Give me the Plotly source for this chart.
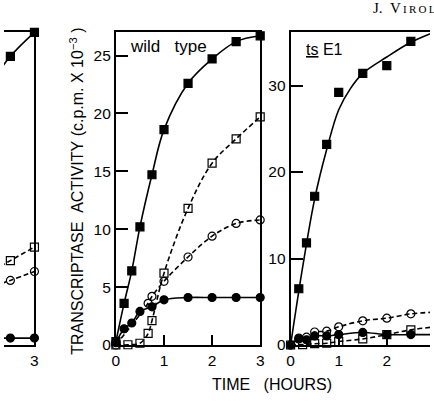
import plotly.graph_objects as go

W, H = 434, 402

# ---------------- data ----------------
# middle panel: wild type
wt_t_fsq = [0, 0.17, 0.33, 0.5, 0.75, 1.0, 1.5, 2.0, 2.5, 3.0]
wt_fsq = [0.3, 3.6, 6.4, 10.2, 14.7, 18.6, 22.6, 24.7, 26.2, 26.7]
wt_t_fci = [0, 0.17, 0.33, 0.5, 0.75, 1.0, 1.5, 2.0, 2.5, 3.0]
wt_fci = [0.2, 1.4, 1.9, 2.9, 3.3, 3.9, 4.1, 4.1, 4.1, 4.1]
wt_t_oci = [0, 0.67, 0.75, 1.0, 1.5, 2.0, 2.5, 3.0]
wt_oci = [0, 3.6, 4.2, 5.5, 7.6, 9.4, 10.5, 10.8]
wt_t_osq = [0, 0.25, 0.5, 0.67, 0.75, 1.0, 1.5, 2.0, 2.5, 3.0]
wt_osq = [0, 0.02, 0.15, 1.0, 2.1, 6.2, 11.8, 15.7, 17.8, 19.7]

# right panel: ts E1
ts_t_fsq = [0.17, 0.33, 0.5, 0.75, 1.0, 1.5, 2.0, 2.5]
ts_fsq = [6.5, 11.8, 17.2, 23.2, 29.2, 31.4, 32.3, 35.1]
ts_curve_t = [0, 0.25, 0.5, 0.75, 1.0, 1.25, 1.5, 2.0, 2.5, 3.0]
ts_curve = [0, 9.0, 16.9, 22.6, 27.2, 29.7, 31.4, 33.3, 35.0, 36.2]
ts_t = [0, 0.17, 0.33, 0.5, 0.75, 1.0, 1.5, 2.0, 2.5, 3.0]
ts_oci = [0, 0.8, 0.9, 1.5, 1.6, 2.1, 2.8, 3.1, 3.6, 3.8]
ts_fci = [0, 0.7, 0.6, 1.05, 1.05, 1.2, 1.45, 1.2, 1.2, 1.2]
ts_t_osq = [0, 0.25, 0.5, 0.75, 1.0, 1.5, 2.0, 2.5, 3.0]
ts_osq = [0, 0.05, 0.15, 0.2, 0.4, 0.7, 1.2, 1.75, 2.1]

# left panel (cut off): only its right end is visible
lp_t = [2.0, 2.5, 3.0]
lp_fsq = [24.5, 27.7, 30.0]
lp_osq = [6.8, 8.1, 9.4]
lp_oci = [5.4, 6.2, 7.05]
lp_fci = [0.66, 0.66, 0.66]

# tick labels
wt_yticks = [0, 5, 10, 15, 20, 25]
ts_yticks = [0, 10, 20, 30]
time_ticks = [0, 1, 2, 3]

# ---------------- figure ----------------
FONT = "Liberation Sans, Arial, sans-serif"
fig = go.Figure()


def px_x(p):
    return p / W


def px_y(p):
    return 1 - p / H


def series(x, y, xa, ya, symbol, dash, mode="lines+markers", shape="spline"):
    fig.add_trace(go.Scatter(
        x=x, y=y, xaxis=xa, yaxis=ya, mode=mode,
        line=dict(color="black", width=1.6, dash=dash, shape=shape, smoothing=1.0),
        marker=dict(symbol=symbol, size=8, color="black",
                    line=dict(color="black", width=1.2)),
        cliponaxis=False, showlegend=False, hoverinfo="skip"))


# middle panel
series(wt_t_fsq, wt_fsq, "x", "y", "square", "solid")
series(wt_t_fci, wt_fci, "x", "y", "circle", "solid")
series(wt_t_oci, wt_oci, "x", "y", "circle-open", "5px,3px")
series(wt_t_osq, wt_osq, "x", "y", "square-open", "5px,3px")

# right panel
series(ts_curve_t, ts_curve, "x2", "y2", "square", "solid", mode="lines")
series(ts_t_fsq, ts_fsq, "x2", "y2", "square", "solid", mode="markers")
series(ts_t, ts_oci, "x2", "y2", "circle-open", "5px,3px")
series(ts_t, ts_fci, "x2", "y2", "circle", "solid")
series(ts_t_osq, ts_osq, "x2", "y2", "square-open", "5px,3px")

# left panel
series(lp_t, lp_fsq, "x3", "y3", "square", "solid")
series(lp_t, lp_osq, "x3", "y3", "square-open", "5px,3px")
series(lp_t, lp_oci, "x3", "y3", "circle-open", "5px,3px")
series(lp_t, lp_fci, "x3", "y3", "circle", "solid")

ydom = [px_y(352), px_y(33)]
common_x = dict(showline=True, linecolor="black", linewidth=2, ticks="inside",
                ticklen=10, tickwidth=1.5, tickcolor="black", showgrid=False,
                zeroline=False,
                tickfont=dict(family=FONT, size=15.5, color="black"))
common_y = dict(showline=True, linecolor="black", linewidth=2, ticks="inside",
                ticklen=12, tickwidth=1.5, tickcolor="black", showgrid=False,
                zeroline=False, tickfont=dict(family=FONT, size=15.5, color="black"))

fig.update_layout(
    width=W, height=H, margin=dict(l=0, r=0, t=0, b=0),
    paper_bgcolor="white", plot_bgcolor="white",
    xaxis=dict(domain=[px_x(114), px_x(261)], range=[0, 3], tickvals=time_ticks,
               mirror=True, anchor="y", **common_x),
    yaxis=dict(domain=ydom, range=[0, 27], tickvals=wt_yticks, mirror=True,
               anchor="x", **common_y),
    xaxis2=dict(domain=[px_x(292), 1.0], range=[0, (434 - 292) / 49.0],
                tickvals=time_ticks, mirror=True, anchor="y2", **common_x),
    yaxis2=dict(domain=ydom, range=[0, 36.15], tickvals=ts_yticks, mirror=False,
                anchor="x2", **common_y),
    xaxis3=dict(domain=[0, px_x(31)], range=[3 - 31 / 49.0, 3], tickvals=[3],
                mirror=True, anchor="y3", **common_x),
    yaxis3=dict(domain=ydom, range=[0, 30], side="right", showline=True,
                linecolor="black", linewidth=2, ticks="", showticklabels=False,
                showgrid=False, zeroline=False, anchor="x3"),
)

ann = [
    dict(text="TRANSCRIPTASE\u00a0\u00a0ACTIVITY\u00a0(c.p.m.\u00a0X\u00a010<sup>\u2212</sup><sup>3</sup>\u00a0)",
         x=px_x(74), y=px_y(195), textangle=-90, font=dict(family=FONT, size=16)),
    dict(text="TIME\u00a0\u00a0\u00a0(HOURS)", x=px_x(273), y=px_y(392),
         font=dict(family=FONT, size=16)),
    dict(text="wild\u00a0\u00a0\u00a0type", x=px_x(168), y=px_y(47),
         font=dict(family=FONT, size=17)),
    dict(text="<u>ts</u> E1", x=px_x(327), y=px_y(50),
         font=dict(family=FONT, size=16)),
]
for a in ann:
    a.update(xref="paper", yref="paper", showarrow=False, xanchor="center",
             yanchor="middle")
    a["font"]["color"] = "black"
    fig.add_annotation(**a)

fig.add_annotation(text="J.\u00a0\u00a0V<span style='font-size:11px'>\u2009I\u2009R\u2009O\u2009L.</span>",
                   x=px_x(374), y=px_y(8), xref="paper", yref="paper",
                   showarrow=False, xanchor="left", yanchor="middle",
                   font=dict(family="Liberation Serif, serif", size=15, color="black"))

fig.write_html("out.html")
